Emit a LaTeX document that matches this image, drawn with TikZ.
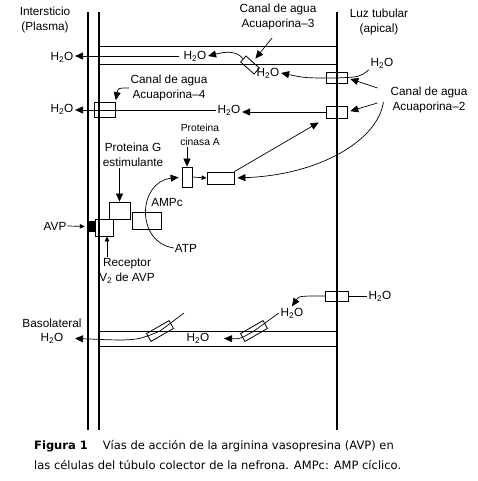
\documentclass[tikz,border=0pt]{standalone}
\usepackage{fontspec}
\setmainfont{Liberation Sans}
\newfontfamily\capfont{DejaVu Sans}
\usetikzlibrary{arrows.meta}

\newcommand{\water}{H\textsubscript{2}O}

\begin{document}
\begin{tikzpicture}[
  x=1pt, y=-1pt,
  font=\fontsize{11.8}{15.5}\selectfont,
  lbl/.style={align=center, inner sep=1pt},
  wat/.style={inner sep=1.5pt},
  chan/.style={draw, line width=0.8pt, inner sep=0pt},
  memb/.style={line width=1.1pt},
  wall/.style={line width=0.8pt},
  thin/.style={line width=0.7pt},
  arr/.style={-{Triangle[length=8pt,width=7pt]}, line width=0.7pt},
  sarr/.style={-{Triangle[length=5pt,width=4.5pt]}, line width=0.7pt}
]
  \useasboundingbox (0,0) rectangle (477,481);

  % Cell membranes and the two channels across the cell
  \draw[memb] (88,12) -- (88,430);
  \draw[memb] (99,12) -- (99,430);
  \draw[memb] (337,12) -- (337,430);
  \draw[wall] (99,46) -- (337,46) (99,64) -- (337,64);
  \draw[wall] (99,331) -- (337,331) (99,346) -- (337,346);

  % Side and channel labels
  \node[lbl] (inter) at (45,20) {Intersticio\\(Plasma)};
  \node[lbl] (luz) at (379,22) {Luz tubular\\(apical)};
  \node[lbl] (aqp3lbl) at (278,17) {Canal de agua\\Acuaporina--3};
  \node[lbl] (aqp4lbl) at (169,88) {Canal de agua\\Acuaporina--4};
  \node[lbl] (aqp2lbl) at (429,100) {Canal de agua\\Acuaporina--2};

  % Water channels
  \node[chan, minimum width=21pt, minimum height=15pt] (aqp4) at (104.5,110) {};
  \node[chan, minimum width=21pt, minimum height=11pt] (aqp2a) at (336.5,78) {};
  \node[chan, minimum width=21pt, minimum height=12pt] (aqp2b) at (336.5,112) {};
  \node[chan, minimum width=23pt, minimum height=10pt] (aqp2c) at (337,296) {};
  \node[chan, minimum width=18pt, minimum height=8pt, rotate=-42] (aqp3) at (250,65) {};
  \node[chan, minimum width=26pt, minimum height=9pt, rotate=30] (aqpB1) at (160,331) {};
  \node[chan, minimum width=26pt, minimum height=9pt, rotate=30] (aqpB2) at (254,331) {};

  % Water labels
  \node[wat] (h2oTopL) at (62,57) {\water};
  \node[wat] (h2oTop) at (195,56) {\water};
  \node[wat] (h2oApIn) at (268,73) {\water};
  \node[wat] (h2oLum1) at (382,63) {\water};
  \node[wat] (h2oMidL) at (62,109) {\water};
  \node[wat] (h2oMid) at (229,110) {\water};
  \node[wat] (h2oLum2) at (380,296) {\water};
  \node[wat] (h2oBotIn) at (292,313) {\water};
  \node[wat] (h2oBotMid) at (198,338) {\water};
  \node[lbl] (basoLbl) at (52,323) {Basolateral};
  \node[wat] (h2oBaso) at (52,338) {\water};

  % Signalling chain
  \node[fill=black, minimum width=6pt, minimum height=11pt, inner sep=0pt] (avpBind) at (92,226.5) {};
  \node[chan, minimum width=18pt, minimum height=17pt] (rec) at (104,227.5) {};
  \node[chan, minimum width=21pt, minimum height=17pt] (gprot) at (119.5,210.5) {};
  \node[chan, minimum width=29pt, minimum height=17pt] (ac) at (146.5,220.5) {};
  \node[chan, minimum width=10pt, minimum height=20pt] (pka) at (187,177) {};
  \node[chan, minimum width=27pt, minimum height=12pt] (target) at (220.5,178) {};

  \node[lbl] (gLbl) at (133,155) {Proteina G\\estimulante};
  \node[lbl, font=\fontsize{10.3}{14.5}\selectfont] (pkaLbl) at (200,135) {Proteina\\cinasa A};
  \node[lbl] (ampc) at (167,202) {AMPc};
  \node[lbl] (atp) at (186,248) {ATP};
  \node[lbl] (avp) at (55,226) {AVP};
  \node[lbl] (recLbl) at (127,271) {Receptor\\V\textsubscript{2} de AVP};

  % Water flows
  \draw[arr, shorten <=3pt] (h2oTop.west) -- (h2oTop.west -| h2oTopL.east);
  \draw[arr] (aqp3.west) .. controls (236,50) and (224,52) .. (h2oTop.east);
  \draw[thin] (h2oLum1.south west) .. controls (360,77) .. (aqp2a.center);
  \draw[arr] (aqp2a.center) .. controls (305,78) .. (h2oApIn.east);
  \draw[arr] (aqp2b.west) -- (aqp2b.west -| h2oMid.east);
  \draw[arr] (h2oMid.west) -- (h2oMid.west -| h2oMidL.east);
  \draw[thin] (h2oLum2.west) -- (aqp2c.east);
  \draw[arr] (aqp2c.west) .. controls (299,296) .. (h2oBotIn.north);
  \draw[arr, shorten >=13pt] (h2oBotIn.west) -- (aqpB2.center) .. controls (240,339) .. (h2oBotMid.east);
  \coordinate (b1start) at (184,313);
  \draw[arr, shorten >=10pt] (b1start) -- (aqpB1.center) .. controls (136,341) .. (h2oBaso.east);

  % Label pointers
  \draw[arr, shorten >=4pt] ([shift={(-6,21)}]aqp3lbl.center) -- (aqp3.north);
  \draw[arr, shorten >=2pt] (aqp4lbl.west) .. controls (118,88) .. (aqp4.north east);
  \draw[arr, shorten >=3pt] ([shift={(-12,-12)}]aqp2lbl.west) -- (aqp2a.east);
  \draw[arr, shorten >=3pt] ([shift={(-12,3)}]aqp2lbl.west) -- (aqp2b.east);

  % Signal path
  \draw[sarr, shorten >=4pt] (avp.east) -- (avpBind.west);
  \coordinate (recArr) at ([xshift=3pt]rec.south);
  \draw[sarr] (recLbl.north -| recArr) -- (recArr);
  \draw[arr] (gLbl.south -| gprot.north) -- (gprot.north);
  \draw[arr] (pkaLbl.south -| pka.north) -- (pka.north);
  \draw[arr, shorten >=3pt] (atp.west) .. controls (135,242) and (138,182) .. (pka.west);
  \draw[sarr] (pka.east) -- (target.west);
  \draw[arr, shorten >=8pt] (target.north east) -- (aqp2b.south west);
  \draw[arr, shorten >=3pt] ([shift={(-6,2)}]aqp2lbl.west) .. controls (378,140) and (320,175) .. (target.east);

  % Caption
  \node[anchor=north west, align=left, inner sep=0pt,
        font=\capfont\fontsize{11.5}{20}\selectfont] (caption) at (34,440)
    {\textbf{Figura 1}\hspace{1.3em}Vías de acción de la arginina vasopresina (AVP) en\\
     las células del túbulo colector de la nefrona. AMPc: AMP cíclico.};
\end{tikzpicture}
\end{document}
